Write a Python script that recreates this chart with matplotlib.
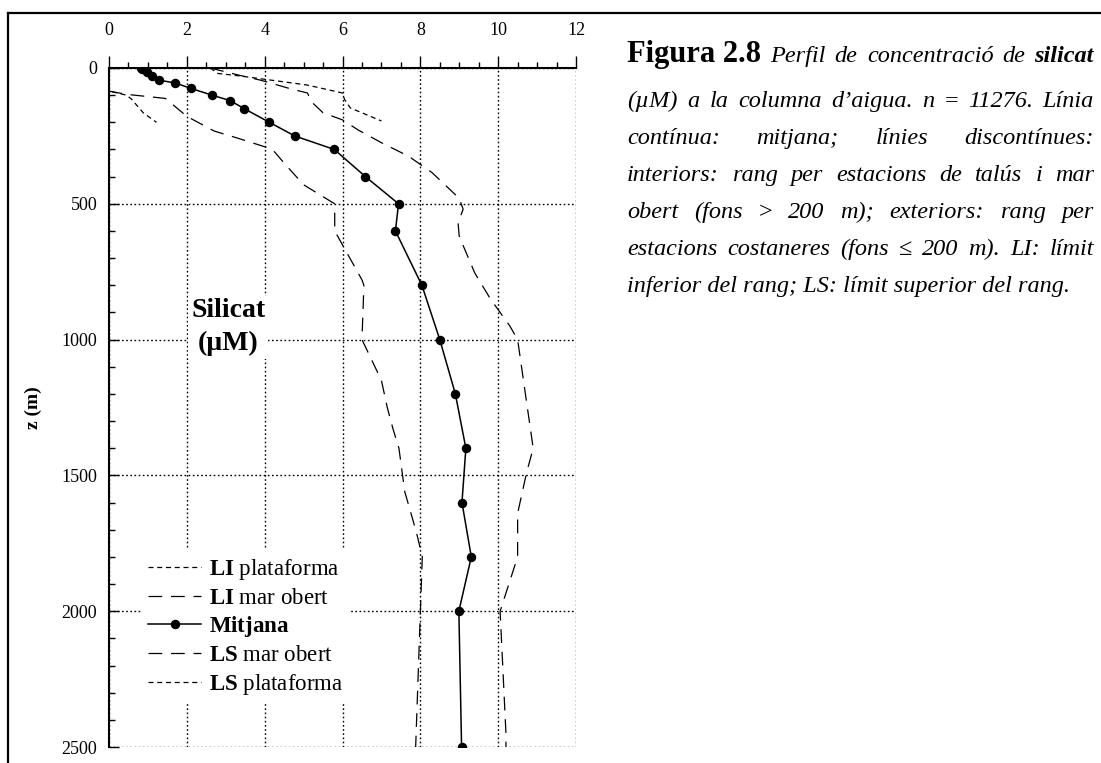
import matplotlib
matplotlib.use('Agg')
import matplotlib.pyplot as plt
from matplotlib.lines import Line2D
from matplotlib.ticker import MultipleLocator

plt.rcParams['font.family'] = ['Liberation Serif', 'DejaVu Serif']
plt.rcParams['mathtext.fontset'] = 'custom'
plt.rcParams['mathtext.rm'] = 'Liberation Serif'
plt.rcParams['mathtext.bf'] = 'Liberation Serif:bold'
plt.rcParams['mathtext.it'] = 'Liberation Serif:italic'

# --- DATA ---
mean_z = [0, 5, 15, 30, 45, 55, 75, 100, 120, 150, 200, 250, 300, 400,
          500, 600, 800, 1000, 1200, 1400, 1600, 1800, 2000, 2500]
mean_si = [0.82, 0.86, 0.98, 1.10, 1.29, 1.70, 2.10, 2.65, 3.11, 3.48, 4.12, 4.77, 5.79, 6.59,
           7.44, 7.36, 8.04, 8.50, 8.90, 9.17, 9.07, 9.31, 8.99, 9.06]

li_plat_z = [0, 85, 100, 115, 165, 200]
li_plat_si = [0.0, 0.0, 0.45, 0.58, 0.88, 1.22]

li_mar_z = [0, 85, 97, 112, 178, 232, 258, 290, 300, 350, 430, 500, 600, 780, 800,
            1000, 1150, 1250, 1330, 1400, 1560, 1710, 1800, 2500]
li_mar_si = [0.0, 0.0, 0.45, 1.45, 2.0, 2.7, 3.3, 4.0, 4.2, 4.5, 5.0, 5.8, 5.8, 6.5, 6.55,
             6.5, 7.0, 7.15, 7.3, 7.45, 7.6, 7.9, 8.05, 7.88]

ls_mar_z = [0, 25, 45, 78, 92, 124, 165, 191, 228, 275, 325, 385, 480, 520, 570, 620,
            755, 850, 950, 1000, 1300, 1400, 1490, 1640, 1800, 2000, 2450, 2500]
ls_mar_si = [2.6, 3.3, 3.9, 4.7, 5.1, 5.2, 5.5, 6.0, 6.4, 7.0, 7.7, 8.3, 9.0, 9.1, 8.97, 9.0,
             9.4, 9.8, 10.3, 10.5, 10.8, 10.9, 10.73, 10.5, 10.5, 10.05, 10.2, 10.2]

ls_plat_z = [0, 20, 30, 55, 63, 92, 115, 147, 195]
ls_plat_si = [2.6, 2.8, 3.4, 4.7, 5.1, 6.0, 6.05, 6.2, 7.0]

x_ticks = [0, 2, 4, 6, 8, 10, 12]
z_ticks = [0, 500, 1000, 1500, 2000, 2500]

# --- FIGURE ---
W, H = 1101, 763
fig = plt.figure(figsize=(W / 100, H / 100), dpi=100)

def fx(px):
    return px / W

def fy(py):
    return 1 - py / H

# page frame (top and left edges)
fig.add_artist(Line2D([fx(7.5), fx(7.5)], [fy(12.5), 0], color='black', lw=1.6))
fig.add_artist(Line2D([fx(7.5), 1], [fy(12.5), fy(12.5)], color='black', lw=1.6))

ax = fig.add_axes([fx(109), fy(747), fx(576) - fx(109), fy(68) - fy(747)])

dot = (0, (1.2, 1.8))
short = (0, (4, 3))
long_ = (0, (11, 7))

ax.plot(li_plat_si, li_plat_z, color='black', lw=0.9, ls=short,
        label=r'$\mathbf{LI}$ plataforma')
ax.plot(li_mar_si, li_mar_z, color='black', lw=0.9, ls=long_,
        label=r'$\mathbf{LI}$ mar obert')
ax.plot(mean_si, mean_z, color='black', lw=1.1, marker='o', ms=5.8,
        label=r'$\mathbf{Mitjana}$')
ax.plot(ls_mar_si, ls_mar_z, color='black', lw=0.9, ls=long_,
        label=r'$\mathbf{LS}$ mar obert')
ax.plot(ls_plat_si, ls_plat_z, color='black', lw=0.9, ls=short,
        label=r'$\mathbf{LS}$ plataforma')

ax.set_xlim(0, 12)
ax.set_ylim(2500, 0)
ax.set_xticks(x_ticks)
ax.set_yticks(z_ticks)
ax.xaxis.set_minor_locator(MultipleLocator(0.5))
ax.yaxis.set_minor_locator(MultipleLocator(100))
ax.xaxis.tick_top()

ax.spines['right'].set_visible(False)
ax.spines['bottom'].set_visible(False)
ax.spines['top'].set_linewidth(1.5)
ax.spines['left'].set_linewidth(1.5)

ax.tick_params(axis='x', which='major', direction='out', length=9, width=1, pad=12, labelsize=13)
ax.tick_params(axis='x', which='minor', direction='out', length=4.5, width=1)
ax.tick_params(axis='y', which='major', direction='in', length=7, width=1, pad=8.5, labelsize=13)
ax.tick_params(axis='y', which='minor', direction='in', length=4, width=1)

ax.set_axisbelow(True)
ax.grid(True, which='major', color='black', ls=dot, lw=1.0)

ax.set_ylabel('z (m)', fontsize=14, fontweight='bold', labelpad=14)

ax.text(3.06, 955, 'Silicat\n(µM)', fontsize=20, fontweight='bold', ha='center', va='center',
        linespacing=1.4, zorder=4,
        bbox=dict(facecolor='white', edgecolor='none', pad=2))

leg = ax.legend(loc='upper left', bbox_to_anchor=(0.045, 0.307), fontsize=16.5,
                handlelength=2.3, handletextpad=0.35, labelspacing=0.25,
                borderpad=0.3, frameon=True, fancybox=False, framealpha=1,
                edgecolor='none', facecolor='white')
leg.set_zorder(5)

# --- CAPTION (justified, as in the page) ---
IT = dict(fontsize=17.5, style='italic')
UP = dict(fontsize=17.5)
BI = dict(fontsize=17.5, style='italic', weight='bold')
BF = dict(fontsize=22, weight='bold')

caption = [
    [('Figura 2.8', BF), ('Perfil', IT), ('de', IT), ('concentració', IT), ('de', IT), ('silicat', BI)],
    [('(µM)', IT), ('a', IT), ('la', IT), ('columna', IT), ('d’aigua.', IT), ('n', IT), ('=', UP),
     ('11276.', IT), ('Línia', IT)],
    [('contínua:', IT), ('mitjana;', IT), ('línies', IT), ('discontínues:', IT)],
    [('interiors:', IT), ('rang', IT), ('per', IT), ('estacions', IT), ('de', IT), ('talús', IT),
     ('i', IT), ('mar', IT)],
    [('obert', IT), ('(fons', IT), ('>', UP), ('200', IT), ('m);', IT), ('exteriors:', IT),
     ('rang', IT), ('per', IT)],
    [('estacions', IT), ('costaneres', IT), ('(fons', IT), ('≤', UP), ('200', IT), ('m).', IT),
     ('LI:', IT), ('límit', IT)],
    [('inferior del rang; LS: límit superior del rang.', IT)],
]
baselines = [62, 107, 144, 181, 218, 255, 292]
x0, x1 = 627, 1094

renderer = fig.canvas.get_renderer()
for words, yb in zip(caption, baselines):
    arts = [fig.text(0, fy(yb), w, va='baseline', ha='left', **kw) for w, kw in words]
    widths = [a.get_window_extent(renderer).width for a in arts]
    gap = (x1 - x0 - sum(widths)) / (len(arts) - 1) if len(arts) > 1 else 0
    x = x0
    for a, w in zip(arts, widths):
        a.set_x(fx(x))
        x += w + gap

fig.savefig('out.png', dpi=100)
